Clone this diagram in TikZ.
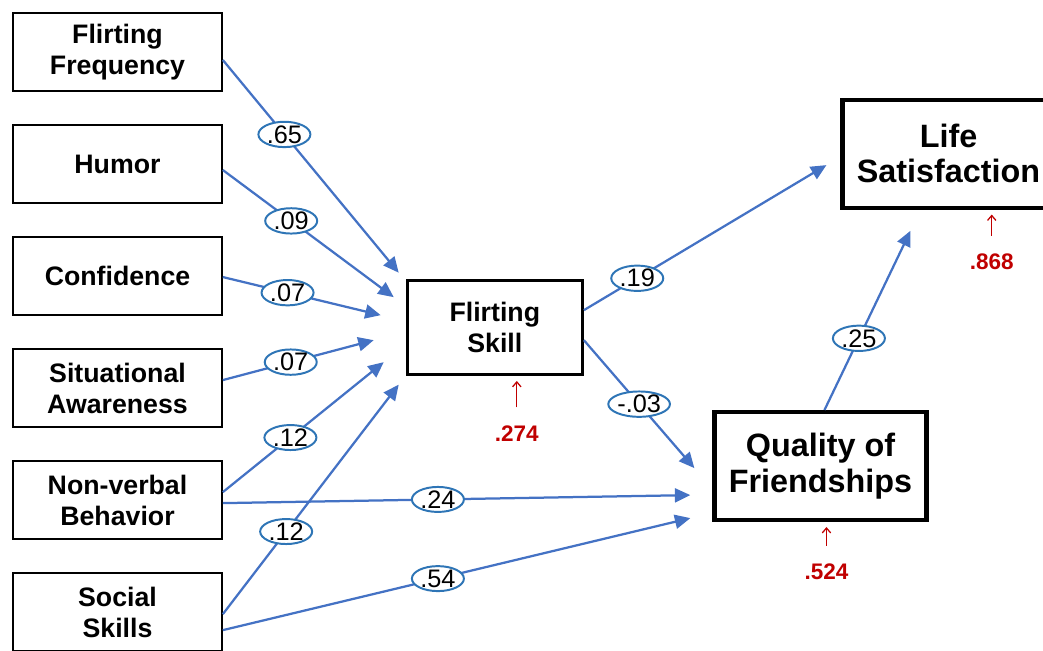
\documentclass[tikz,border=0pt]{standalone}
\usepackage{fontspec}
\setmainfont{Liberation Sans}
\usetikzlibrary{arrows.meta, shapes, positioning}
\definecolor{lineblue}{HTML}{4472C4}
\definecolor{coefblue}{HTML}{2E75B6}
\definecolor{rsqred}{HTML}{C00000}

\begin{document}
\begin{tikzpicture}[x=0.025cm, y=-0.025cm, on grid, node distance = 2.8cm,
		var/.style = {draw, line width=1.3pt, minimum width=5.22cm, minimum height=1.95cm, align=center, font=\fontsize{19}{22}\selectfont\bfseries},
		mid/.style = {var, line width=2.1pt, minimum width=4.38cm, minimum height=2.35cm},
		outc/.style = {var, line width=3pt, minimum width=5.3cm, minimum height=2.7cm, font=\fontsize{23}{25}\selectfont\bfseries},
		coef/.style = {ellipse, draw=coefblue, line width=1.4pt, fill=white, text=black, inner sep=0pt, minimum width=1.3cm, minimum height=0.62cm, font=\fontsize{18}{18}\selectfont},
		link/.style = {-{Triangle[length=11pt, width=10pt]}, draw=lineblue, line width=1.6pt},
		rsq/.style = {text=rsqred, inner sep=1pt, font=\fontsize{16}{16}\selectfont\bfseries},
		resid/.style = {-{Straight Barb[length=3.5pt, width=6pt]}, draw=rsqred, line width=0.9pt, shorten <=0.42cm, shorten >=0.12cm}]
		\useasboundingbox (0,0) rectangle (1043,650);
		
		% predictors
		\node[var] (freq) at (117.5,52) {Flirting\\Frequency};
		\node[var, below = of freq] (humor) {Humor};
		\node[var, below = of humor] (conf) {Confidence};
		\node[var, below = of conf] (aware) {Situational\\Awareness};
		\node[var, below = of aware] (nonverb) {Non-verbal\\Behavior};
		\node[var, below = of nonverb] (social) {Social\\Skills};
		
		% mediator and outcomes
		\node[mid, below right = 1.29cm and 9.43cm of conf] (skill) {Flirting\\Skill};
		\node[outc, below right = 3.46cm and 8.14cm of skill] (friends) {Quality of\\Friendships};
		\node[outc, above right = 4.35cm and 11.34cm of skill] (life) {Life\\Satisfaction};
		
		% explained variance
		\node[rsq, below right = 2.65cm and 0.55cm of skill] (rskill) {.274};
		\node[rsq, below right = 2.65cm and 0.15cm of friends] (rfriends) {.524};
		\node[rsq, below right = 2.71cm and 1.08cm of life] (rlife) {.868};
		
		\path
		([shift={(0,8)}]freq.east)      edge[link] node[coef, pos=.35] {.65} ([shift={(-7,-6.5)}]skill.north west)
		([shift={(0,6)}]humor.east)     edge[link] node[coef, pos=.40] {.09} ([shift={(-12,-30.5)}]skill.west)
		([shift={(0,1)}]conf.east)      edge[link] node[coef, pos=.41] {.07} ([shift={(-25,-12.5)}]skill.west)
		([shift={(0,-8)}]aware.east)    edge[link] node[coef, pos=.45] {.07} ([shift={(-32,12.5)}]skill.west)
		([shift={(0,-8)}]nonverb.east)  edge[link] node[coef, pos=.42] {.12} ([shift={(-22,34.5)}]skill.west)
		([shift={(0,2)}]social.east)    edge[link] node[coef, pos=.36] {.12} ([shift={(-7,8.5)}]skill.south west)
		([shift={(0,3)}]nonverb.east)   edge[link] node[coef, pos=.46] {.24} ([shift={(-22,29)}]friends.west)
		([shift={(0,18)}]social.east)   edge[link] node[coef, pos=.46] {.54} ([shift={(-22,52)}]friends.west)
		([shift={(0,-17.5)}]skill.east) edge[link] node[coef, pos=.22] {.19} ([shift={(-14,11.5)}]life.west)
		([shift={(0,12.5)}]skill.east)  edge[link] node[coef, pos=.50] {-.03} ([shift={(-18,2)}]friends.west)
		([shift={(4,0)}]friends.north)  edge[link] node[coef, pos=.40] {.25} ([shift={(-38,21)}]life.south)
		;
		
		\path
		(rskill)   edge[resid] (rskill |- skill.south)
		(rfriends) edge[resid] (rfriends |- friends.south)
		(rlife)    edge[resid] (rlife |- life.south)
		;
\end{tikzpicture}
\end{document}
